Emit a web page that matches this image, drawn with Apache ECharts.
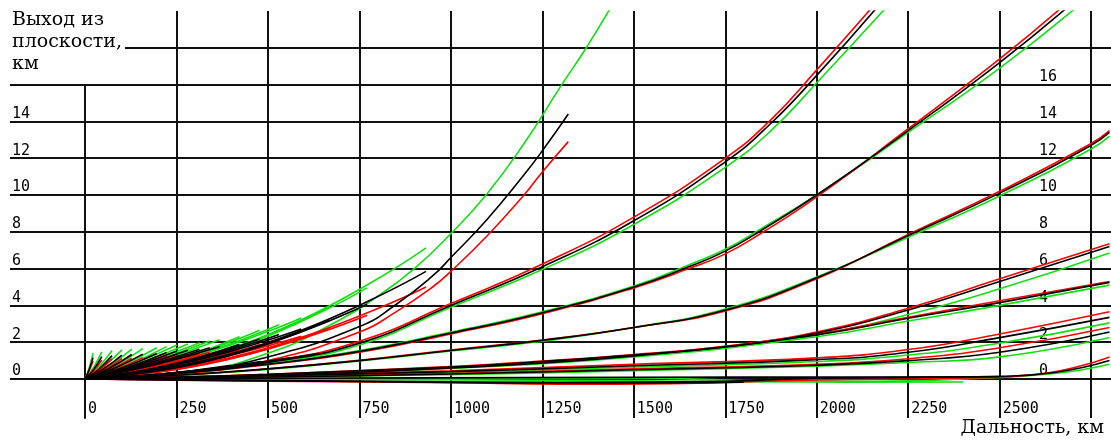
<!DOCTYPE html>
<html>
<head>
<meta charset="utf-8">
<script src="https://cdn.jsdelivr.net/npm/echarts@6/dist/echarts.min.js"></script>
<style>
  html, body { margin: 0; background: #fff; }
  #chart { width: 1111px; height: 446px; }
</style>
</head>
<body>
<div id="chart"></div>
<script>
// tick labels
const xLabels = [0, 250, 500, 750, 1000, 1250, 1500, 1750, 2000, 2250, 2500];
const leftLabels = [0, 2, 4, 6, 8, 10, 12, 14];
const rightLabels = [0, 2, 4, 6, 8, 10, 12, 14, 16];

// short trajectories fanning out of the origin, [range km, out-of-plane km]
const fanGreen = [
  [[0, 0], [11, 0.59], [22, 1.41]],
  [[0, 0], [23, 0.62], [46, 1.47]],
  [[0, 0], [37, 0.65], [74, 1.55]],
  [[0, 0], [50, 0.66], [101, 1.58]],
  [[0, 0], [64, 0.68], [128, 1.62]],
  [[0, 0], [79, 0.69], [158, 1.65]],
  [[0, 0], [98, 0.71], [196, 1.70]],
  [[0, 0], [112, 0.74], [223, 1.76]],
  [[0, 0], [125, 0.78], [251, 1.85]],
  [[0, 0], [140, 0.80], [281, 1.90]],
  [[0, 0], [156, 0.83], [313, 1.97]],
  [[0, 0], [170, 0.87], [341, 2.07]],
  [[0, 0], [184, 0.89], [368, 2.13]],
  [[0, 0], [211, 0.83], [422, 2.30]],
  [[0, 0], [238, 0.95], [477, 2.65]],
  [[0, 0], [265, 1.06], [530, 2.95]],
  [[0, 0], [295, 1.20], [591, 3.32]],
  [[0, 0], [334, 1.18], [668, 3.92]],
  [[0, 0], [385, 1.49], [771, 4.95]],
  [[0, 0], [466, 2.14], [932, 7.13]]
];
const fanBlack = [
  [[0, 0], [11, 0.49], [22, 1.16]],
  [[0, 0], [23, 0.51], [46, 1.21]],
  [[0, 0], [37, 0.53], [74, 1.27]],
  [[0, 0], [50, 0.55], [101, 1.30]],
  [[0, 0], [64, 0.56], [128, 1.33]],
  [[0, 0], [79, 0.57], [158, 1.35]],
  [[0, 0], [98, 0.58], [196, 1.39]],
  [[0, 0], [112, 0.60], [223, 1.44]],
  [[0, 0], [125, 0.64], [251, 1.52]],
  [[0, 0], [140, 0.66], [281, 1.56]],
  [[0, 0], [156, 0.68], [313, 1.62]],
  [[0, 0], [170, 0.71], [341, 1.70]],
  [[0, 0], [184, 0.74], [368, 1.75]],
  [[0, 0], [211, 0.68], [422, 1.89]],
  [[0, 0], [238, 0.78], [477, 2.17]],
  [[0, 0], [265, 0.87], [530, 2.42]],
  [[0, 0], [295, 0.98], [591, 2.72]],
  [[0, 0], [334, 0.96], [668, 3.21]],
  [[0, 0], [385, 1.22], [771, 4.06]],
  [[0, 0], [466, 1.76], [932, 5.85]]
];
const fanRed = [
  [[0, 0], [11, 0.42], [22, 0.99]],
  [[0, 0], [23, 0.43], [46, 1.03]],
  [[0, 0], [37, 0.46], [74, 1.09]],
  [[0, 0], [50, 0.47], [101, 1.11]],
  [[0, 0], [64, 0.47], [128, 1.13]],
  [[0, 0], [79, 0.49], [158, 1.16]],
  [[0, 0], [98, 0.50], [196, 1.19]],
  [[0, 0], [112, 0.52], [223, 1.23]],
  [[0, 0], [125, 0.55], [251, 1.30]],
  [[0, 0], [140, 0.56], [281, 1.33]],
  [[0, 0], [156, 0.58], [313, 1.38]],
  [[0, 0], [170, 0.61], [341, 1.45]],
  [[0, 0], [184, 0.63], [368, 1.49]],
  [[0, 0], [211, 0.58], [422, 1.61]],
  [[0, 0], [238, 0.67], [477, 1.86]],
  [[0, 0], [265, 0.75], [530, 2.07]],
  [[0, 0], [295, 0.84], [591, 2.32]],
  [[0, 0], [334, 0.82], [668, 2.74]],
  [[0, 0], [385, 1.04], [771, 3.47]],
  [[0, 0], [466, 1.50], [932, 5.00]]
];
// flatter trajectories of the fan, lying under the main bundle
const lowRed = [
  [[0, 0], [190, 0.2], [380, 0.6]],
  [[0, 0], [225, 0.27], [450, 0.8]],
  [[0, 0], [260, 0.34], [520, 1.0]],
  [[0, 0], [295, 0.41], [590, 1.2]],
  [[0, 0], [330, 0.5], [660, 1.45]]
];
const lowBlack = [
  [[0, 0], [200, 0.26], [400, 0.75]],
  [[0, 0], [240, 0.32], [480, 0.95]],
  [[0, 0], [280, 0.39], [560, 1.15]],
  [[0, 0], [320, 0.47], [640, 1.4]]
];

// longer trajectories
const t0Green = [[0, 0], [250, 0.25], [500, 1.4], [700, 3.25], [800, 4.5], [900, 6.0], [1000, 7.9], [1100, 10.1], [1200, 12.8], [1300, 15.9], [1370, 18.0], [1440, 20.3]];
const t0Black = [[0, 0], [250, 0.3], [500, 1.2], [750, 2.85], [850, 4.05], [950, 5.6], [1000, 6.6], [1100, 8.7], [1200, 11.1], [1250, 12.4], [1321, 14.4]];
const t0Red = [[0, 0], [250, 0.25], [500, 1.0], [750, 2.55], [850, 3.65], [950, 5.0], [1000, 5.85], [1100, 7.8], [1200, 10.0], [1250, 11.25], [1321, 12.9]];

const t1Green = [[0, 0], [250, 0.28], [500, 0.85], [750, 1.85], [1000, 3.9], [1250, 5.95], [1500, 8.4], [1750, 11.5], [1875, 13.5], [2000, 16.1], [2190, 20.2]];
const t1Red = [[0, 0], [250, 0.32], [500, 0.95], [750, 2.05], [1000, 4.1], [1250, 6.25], [1500, 8.8], [1750, 12.0], [1875, 14.1], [2000, 16.8], [2160, 20.4]];
const t1Black = [[0, 0], [250, 0.3], [500, 0.9], [750, 1.95], [1000, 4.0], [1250, 6.1], [1500, 8.6], [1750, 11.8], [1875, 13.9], [2000, 16.5], [2165, 20.2]];

const t2Green = [[0, 0], [250, 0.3], [500, 0.82], [750, 1.55], [1000, 2.55], [1250, 3.65], [1500, 5.05], [1650, 6.2], [1750, 7.05], [1850, 8.2], [2000, 10.0], [2250, 13.4], [2500, 16.9], [2710, 20.2]];
const t2Red = [[0, 0], [250, 0.3], [500, 0.78], [750, 1.45], [1000, 2.45], [1250, 3.55], [1500, 4.95], [1650, 6.0], [1750, 6.8], [1850, 7.95], [2000, 9.9], [2250, 13.6], [2500, 17.4], [2670, 20.2]];
const t2Black = [[0, 0], [250, 0.3], [500, 0.8], [750, 1.5], [1000, 2.5], [1250, 3.6], [1500, 5.0], [1650, 6.1], [1750, 6.95], [1850, 8.1], [2000, 10.0], [2250, 13.5], [2500, 17.2], [2685, 20.2]];

const t3Green = [[0, 0], [250, 0.2], [500, 0.52], [750, 0.98], [1000, 1.52], [1250, 2.05], [1500, 2.8], [1750, 3.8], [2000, 5.55], [2250, 7.7], [2500, 9.95], [2750, 12.5], [2800, 13.2]];
const t3Red = [[0, 0], [250, 0.2], [500, 0.56], [750, 1.02], [1000, 1.58], [1250, 2.12], [1500, 2.8], [1750, 3.7], [2000, 5.45], [2250, 7.85], [2500, 10.2], [2750, 12.8], [2800, 13.5]];
const t3Black = [[0, 0], [250, 0.2], [500, 0.55], [750, 1.0], [1000, 1.55], [1250, 2.1], [1500, 2.8], [1750, 3.75], [2000, 5.5], [2250, 7.8], [2500, 10.1], [2750, 12.7], [2800, 13.4]];

const t4Green = [[0, 0], [250, 0.1], [500, 0.24], [750, 0.43], [1000, 0.63], [1250, 0.92], [1500, 1.27], [1750, 1.7], [2000, 2.4], [2250, 3.5], [2500, 4.9], [2800, 6.85]];
const t4Red = [[0, 0], [250, 0.1], [500, 0.26], [750, 0.46], [1000, 0.67], [1250, 0.97], [1500, 1.33], [1750, 1.78], [2000, 2.55], [2250, 3.85], [2500, 5.45], [2800, 7.35]];
const t4Black = [[0, 0], [250, 0.1], [500, 0.25], [750, 0.45], [1000, 0.65], [1250, 0.95], [1500, 1.3], [1750, 1.75], [2000, 2.5], [2250, 3.75], [2500, 5.3], [2800, 7.2]];

const t5Green = [[0, 0], [500, 0.18], [1000, 0.57], [1500, 1.2], [2000, 2.3], [2250, 3.15], [2500, 4.0], [2800, 5.1]];
const t5Red = [[0, 0], [500, 0.21], [1000, 0.62], [1500, 1.28], [2000, 2.45], [2250, 3.35], [2500, 4.25], [2800, 5.3]];
const t5Black = [[0, 0], [500, 0.2], [1000, 0.6], [1500, 1.25], [2000, 2.4], [2250, 3.3], [2500, 4.15], [2800, 5.25]];

const t6Green = [[0, 0], [500, 0.15], [1000, 0.35], [1500, 0.65], [2000, 0.95], [2250, 1.3], [2500, 1.95], [2800, 3.05]];
const t6Red = [[0, 0], [500, 0.2], [1000, 0.45], [1500, 0.8], [2000, 1.15], [2250, 1.6], [2500, 2.45], [2800, 3.65]];
const t6Black = [[0, 0], [500, 0.18], [1000, 0.4], [1500, 0.72], [2000, 1.05], [2250, 1.45], [2500, 2.25], [2800, 3.35]];

const t7Green = [[0, 0], [500, 0.1], [1000, 0.24], [1500, 0.45], [2000, 0.7], [2250, 0.9], [2500, 1.2], [2800, 2.25]];
const t7Red = [[0, 0], [500, 0.12], [1000, 0.3], [1500, 0.55], [2000, 0.8], [2250, 1.1], [2500, 1.7], [2800, 2.8]];
const t7Black = [[0, 0], [500, 0.11], [1000, 0.27], [1500, 0.5], [2000, 0.75], [2250, 1.0], [2500, 1.45], [2800, 2.55]];

// trajectories that stay near the plane (dip slightly below zero)
const b1Green = [[0, 0], [1000, 0.05], [1500, 0.05], [1800, -0.08], [2150, -0.12], [2400, 0.0], [2650, 0.3], [2800, 0.8]];
const b1Red = [[0, 0], [400, -0.1], [1000, -0.2], [1300, -0.28], [1600, -0.25], [2000, -0.05], [2400, 0.05], [2600, 0.25], [2800, 1.2]];
const b1Black = [[0, 0], [300, -0.05], [800, -0.12], [1300, -0.18], [1750, -0.12], [2000, 0.05], [2300, 0.1], [2500, 0.15], [2650, 0.35], [2800, 1.0]];
const b2Green = [[0, 0], [1000, -0.05], [1500, -0.1], [1800, -0.15], [2100, -0.17], [2400, -0.16]];
const b2Black = [[0, 0], [300, -0.06], [800, -0.15], [1300, -0.22], [1700, -0.2], [1800, -0.18]];
const b3Black = [[0, 0], [600, 0.04], [1200, 0.08], [1800, 0.1], [2300, 0.1], [2500, 0.12]];

const GREEN = '#12e012';
const RED = '#ff0000';
const BLACK = '#000000';

const greenCurves = fanGreen.concat([t0Green, t1Green, t2Green, t3Green, t4Green, t5Green, t6Green, t7Green, b1Green, b2Green]);
const redCurves = fanRed.concat(lowRed, [t0Red, t1Red, t2Red, t3Red, t4Red, t5Red, t6Red, t7Red, b1Red]);
const blackCurves = fanBlack.concat(lowBlack, [t0Black, t1Black, t2Black, t3Black, t4Black, t5Black, t6Black, t7Black, b1Black, b2Black, b3Black]);

const makeSeries = (curves, color) => curves.map((d) => ({
  type: 'line',
  xAxisIndex: 0,
  yAxisIndex: 0,
  data: d,
  smooth: true,
  symbol: 'none',
  silent: true,
  lineStyle: { color, width: 1.6 },
}));

const gridColor = '#111';
const tickFont = { fontFamily: 'DejaVu Sans Mono', fontSize: 15, color: '#000' };

const chart = echarts.init(document.getElementById('chart'));
chart.setOption({
  animation: false,
  backgroundColor: '#fff',
  title: [
    {
      text: 'Выход из\nплоскости,\nкм',
      left: 10,
      top: 9,
      padding: [0, 3, 0, 2],
      backgroundColor: '#fff',
      textStyle: { fontFamily: 'DejaVu Serif', fontSize: 19, lineHeight: 22, fontWeight: 'normal', color: '#000' },
    },
    {
      text: 'Дальность, км',
      right: 7,
      top: 419,
      padding: 0,
      textStyle: { fontFamily: 'DejaVu Serif', fontSize: 19, fontWeight: 'normal', color: '#000' },
    },
  ],
  grid: [
    { left: 85, right: 0, top: 11, bottom: 28 },
    { left: 10, right: 0, top: 11, bottom: 67 },
    { left: 85, right: 1025, top: 85, bottom: 28 },
  ],
  xAxis: [
    {
      gridIndex: 0,
      type: 'value',
      min: 0,
      max: 2796,
      interval: 250,
      axisLine: { show: false },
      axisTick: { show: false },
      splitLine: { show: true, showMinLine: false, showMaxLine: false, lineStyle: { color: gridColor, width: 2 } },
      axisLabel: {
        inside: true,
        margin: 9,
        align: 'left',
        verticalAlign: 'middle',
        padding: [0, 0, 0, 3],
        ...tickFont,
        formatter: (v) => (xLabels.includes(v) ? String(v) : ''),
      },
    },
    { gridIndex: 1, type: 'value', min: 0, max: 1, show: false },
    { gridIndex: 2, type: 'value', min: 0, max: 1, show: false },
  ],
  yAxis: [
    { gridIndex: 0, type: 'value', min: -2.12, max: 20, show: false, splitLine: { show: false } },
    {
      gridIndex: 1,
      type: 'value',
      min: 0,
      max: 20,
      interval: 2,
      axisLine: { show: false },
      axisTick: { show: false },
      splitLine: { show: true, showMaxLine: false, lineStyle: { color: gridColor, width: 2 } },
      axisLabel: {
        inside: true,
        margin: 2,
        align: 'left',
        verticalAlign: 'bottom',
        ...tickFont,
        formatter: (v) => (leftLabels.includes(v) ? String(v) : ''),
      },
    },
    {
      gridIndex: 1,
      type: 'value',
      position: 'right',
      min: 0,
      max: 20,
      interval: 2,
      axisLine: { show: false },
      axisTick: { show: false },
      splitLine: { show: false },
      axisLabel: {
        inside: true,
        margin: 72,
        align: 'left',
        verticalAlign: 'bottom',
        ...tickFont,
        formatter: (v) => (rightLabels.includes(v) ? String(v) : ''),
      },
    },
    {
      gridIndex: 2,
      type: 'value',
      min: 0,
      max: 1,
      axisLine: { show: true, lineStyle: { color: gridColor, width: 2 } },
      axisTick: { show: false },
      axisLabel: { show: false },
      splitLine: { show: false },
    },
  ],
  series: [
    ...makeSeries(greenCurves, GREEN),
    ...makeSeries(redCurves, RED),
    ...makeSeries(blackCurves, BLACK),
  ],
});
</script>
</body>
</html>
